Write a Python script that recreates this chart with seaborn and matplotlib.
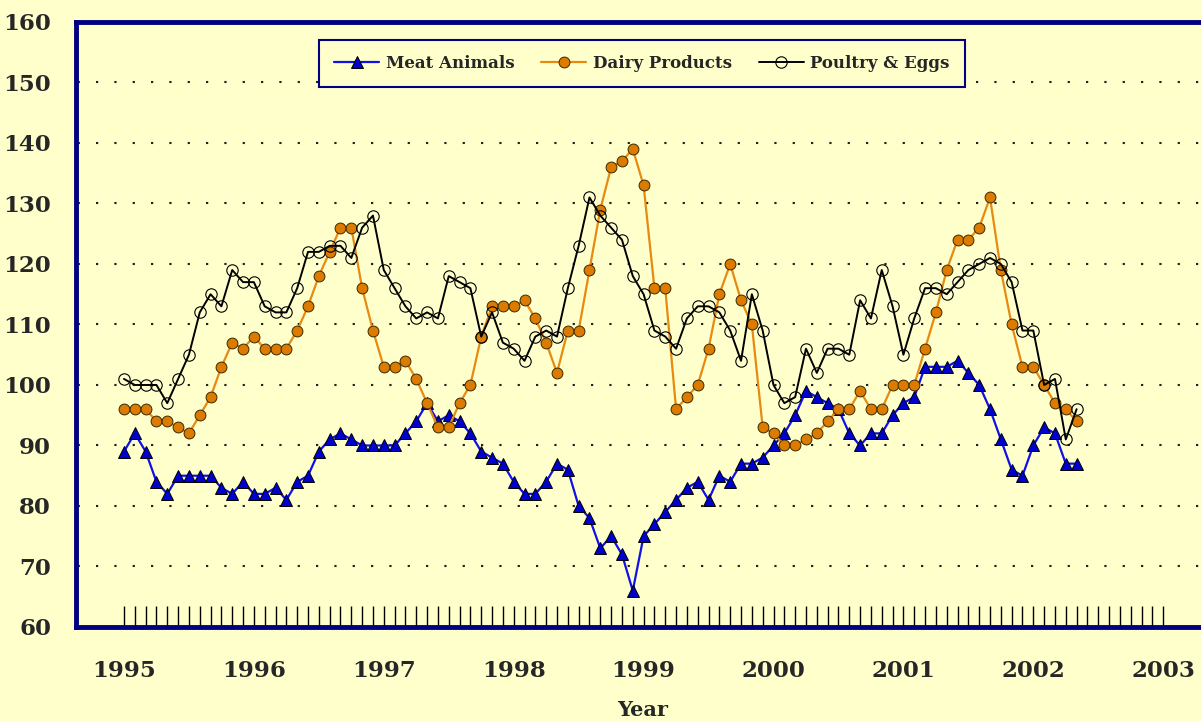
import matplotlib
matplotlib.use("Agg")
import numpy as np
import pandas as pd
import seaborn as sns
from matplotlib import pyplot as plt
from matplotlib.ticker import FixedLocator

# monthly index numbers, Jan 1995 .. May 2002
meat = [89, 92, 89, 84, 82, 85, 85, 85, 85, 83, 82, 84,
        82, 82, 83, 81, 84, 85, 89, 91, 92, 91, 90, 90,
        90, 90, 92, 94, 97, 94, 95, 94, 92, 89, 88, 87,
        84, 82, 82, 84, 87, 86, 80, 78, 73, 75, 72, 66,
        75, 77, 79, 81, 83, 84, 81, 85, 84, 87, 87, 88,
        90, 92, 95, 99, 98, 97, 96, 92, 90, 92, 92, 95,
        97, 98, 103, 103, 103, 104, 102, 100, 96, 91, 86, 85,
        90, 93, 92, 87, 87]
dairy = [96, 96, 96, 94, 94, 93, 92, 95, 98, 103, 107, 106,
         108, 106, 106, 106, 109, 113, 118, 122, 126, 126, 116, 109,
         103, 103, 104, 101, 97, 93, 93, 97, 100, 108, 113, 113,
         113, 114, 111, 107, 102, 109, 109, 119, 129, 136, 137, 139,
         133, 116, 116, 96, 98, 100, 106, 115, 120, 114, 110, 93,
         92, 90, 90, 91, 92, 94, 96, 96, 99, 96, 96, 100,
         100, 100, 106, 112, 119, 124, 124, 126, 131, 119, 110, 103,
         103, 100, 97, 96, 94]
poultry = [101, 100, 100, 100, 97, 101, 105, 112, 115, 113, 119, 117,
           117, 113, 112, 112, 116, 122, 122, 123, 123, 121, 126, 128,
           119, 116, 113, 111, 112, 111, 118, 117, 116, 108, 112, 107,
           106, 104, 108, 109, 108, 116, 123, 131, 128, 126, 124, 118,
           115, 109, 108, 106, 111, 113, 113, 112, 109, 104, 115, 109,
           100, 97, 98, 106, 102, 106, 106, 105, 114, 111, 119, 113,
           105, 111, 116, 116, 115, 117, 119, 120, 121, 120, 117, 109,
           109, 100, 101, 91, 96]
years = ["1995", "1996", "1997", "1998", "1999", "2000", "2001", "2002", "2003"]
y_ticks = [60, 70, 80, 90, 100, 110, 120, 130, 140, 150, 160]

BG = "#FFFFCC"
NAVY = "#000080"

sns.set_theme(style="white", rc={"figure.facecolor": BG, "axes.facecolor": BG})
plt.rcParams["font.family"] = ["DejaVu Serif"]
plt.rcParams["font.weight"] = "bold"
plt.rcParams["lines.scale_dashes"] = False

months = np.arange(len(meat))
df = pd.DataFrame({"month": months, "meat": meat, "dairy": dairy, "poultry": poultry})

fig = plt.figure(figsize=(12.01, 7.21), dpi=100)
ax = fig.add_axes([0.0633, 0.1304, 0.944, 0.8391])

sns.lineplot(data=df, x="month", y="meat", ax=ax, color="#1010E8", linewidth=1.6,
             marker="^", markersize=9, markerfacecolor="#0000CC",
             markeredgecolor="black", markeredgewidth=0.7, label="Meat Animals")
sns.lineplot(data=df, x="month", y="dairy", ax=ax, color="#E88A10", linewidth=1.6,
             marker="o", markersize=7.8, markerfacecolor="#DD7B00",
             markeredgecolor="#3A2A00", markeredgewidth=0.7, label="Dairy Products")
sns.lineplot(data=df, x="month", y="poultry", ax=ax, color="black", linewidth=1.4,
             marker="o", markersize=8.2, markerfacecolor="none",
             markeredgecolor="black", markeredgewidth=0.8, label="Poultry & Eggs")

n_months = 12 * (len(years) - 1) + 1
ax.set_xlim(-4.43, 100.3)
ax.set_ylim(60, 160)

ax.xaxis.set_major_locator(FixedLocator(np.arange(0, n_months, 12)))
ax.set_xticklabels(years)
ax.xaxis.set_minor_locator(FixedLocator(np.arange(n_months)))
ax.tick_params(axis="x", which="both", direction="in", length=15, width=1,
               color="black", bottom=True)
ax.tick_params(axis="x", which="major", pad=24, labelsize=16.5)
ax.set_yticks(y_ticks)
ax.tick_params(axis="y", length=0, pad=18, labelsize=16.5)
for lab in ax.get_xticklabels() + ax.get_yticklabels():
    lab.set_fontweight("bold")

ax.grid(False)
for v in y_ticks[1:-1]:
    ax.axhline(v, color="#202020", linewidth=1.5, linestyle=(12, (1.6, 11.6)), zorder=0.5)

for side in ["left", "top", "bottom"]:
    ax.spines[side].set_color(NAVY)
    ax.spines[side].set_linewidth(3.5)
ax.spines["right"].set_visible(False)

ax.set_ylabel("")
ax.set_xlabel("Year", fontsize=15, fontweight="bold", labelpad=13)

leg = ax.legend(loc="center", bbox_to_anchor=(642 / 1201, 1 - 63 / 721),
                bbox_transform=fig.transFigure, ncol=3, frameon=True,
                fancybox=False, framealpha=1, facecolor=BG, edgecolor=NAVY,
                prop={"family": "DejaVu Serif", "weight": "bold", "size": 12},
                handlelength=2.7, columnspacing=1.6, borderpad=0.9, handletextpad=0.4)
leg.get_frame().set_linewidth(1.5)

fig.savefig("out.png", dpi=100, facecolor=BG)
